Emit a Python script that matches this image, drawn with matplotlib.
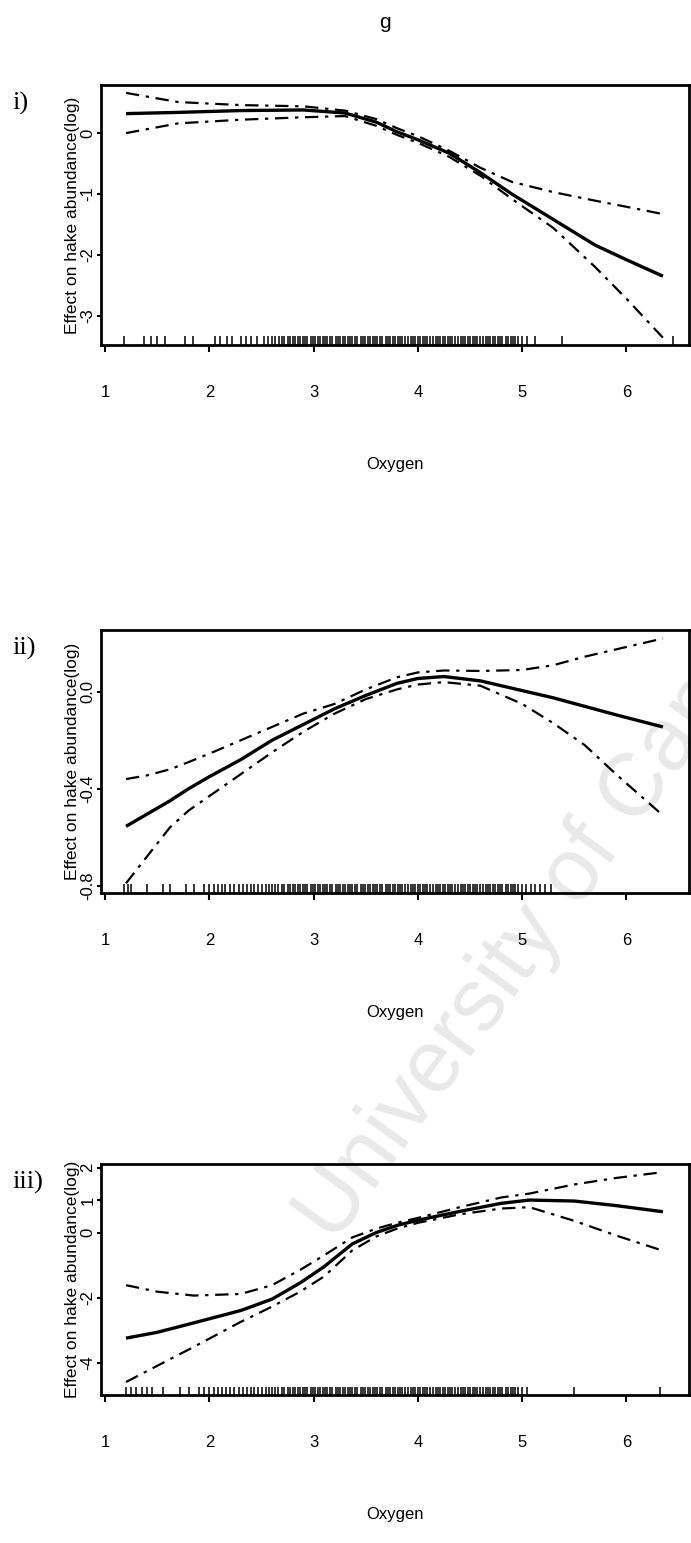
import matplotlib.pyplot as plt

# ---- data (oxygen vs effect) ----
oxy_i = [1.2, 1.7, 2.3, 2.9, 3.3, 3.6, 3.8, 4.0, 4.3, 4.6, 4.9, 5.3, 5.7, 6.0, 6.35]
fit_i = [0.32, 0.34, 0.37, 0.38, 0.33, 0.18, 0.02, -0.11, -0.33, -0.65, -1.00, -1.42, -1.84, -2.08, -2.35]
upper_i = [0.66, 0.51, 0.46, 0.44, 0.37, 0.23, 0.08, -0.05, -0.29, -0.57, -0.80, -0.97, -1.11, -1.21, -1.33]
lower_i = [0.00, 0.16, 0.22, 0.26, 0.28, 0.12, -0.03, -0.16, -0.39, -0.70, -1.08, -1.56, -2.20, -2.72, -3.36]

oxy_ii = [1.2, 1.4, 1.62, 1.8, 2.0, 2.3, 2.6, 2.9, 3.2, 3.5, 3.8, 4.0, 4.25, 4.6, 5.0, 5.3, 5.6, 5.9, 6.35]
fit_ii = [-0.555, -0.505, -0.45, -0.40, -0.35, -0.28, -0.20, -0.135, -0.07, -0.015, 0.035, 0.055, 0.063,
          0.045, 0.005, -0.025, -0.06, -0.095, -0.145]
upper_ii = [-0.36, -0.345, -0.32, -0.29, -0.255, -0.20, -0.145, -0.09, -0.05, 0.01, 0.06, 0.08, 0.088,
            0.086, 0.09, 0.11, 0.145, 0.175, 0.22]
lower_ii = [-0.79, -0.68, -0.56, -0.49, -0.43, -0.34, -0.25, -0.165, -0.09, -0.03, 0.01, 0.03, 0.04,
            0.025, -0.05, -0.13, -0.22, -0.34, -0.51]

oxy_iii = [1.2, 1.5, 1.85, 2.3, 2.6, 2.87, 3.1, 3.37, 3.6, 3.8, 4.0, 4.4, 4.8, 5.07, 5.5, 5.9, 6.35]
fit_iii = [-3.25, -3.07, -2.78, -2.40, -2.05, -1.55, -1.05, -0.35, 0.0, 0.22, 0.38, 0.65, 0.90, 1.00,
           0.97, 0.83, 0.64]
upper_iii = [-1.62, -1.82, -1.94, -1.89, -1.62, -1.15, -0.70, -0.15, 0.12, 0.30, 0.45, 0.78, 1.08, 1.20,
             1.48, 1.68, 1.86]
lower_iii = [-4.60, -4.10, -3.52, -2.75, -2.28, -1.82, -1.35, -0.55, -0.12, 0.12, 0.30, 0.56, 0.74, 0.78,
             0.36, -0.09, -0.56]

# rug: observed oxygen values (dense band shared, sparse ends per panel)
rug_dense = [2.70, 2.72, 2.75, 2.77, 2.80, 2.82, 2.85, 2.87, 2.90, 2.92, 2.94, 2.97, 2.99, 3.01, 3.04,
             3.06, 3.09, 3.11, 3.13, 3.16, 3.18, 3.21, 3.23, 3.25, 3.28, 3.30, 3.33, 3.35, 3.37, 3.40,
             3.42, 3.45, 3.47, 3.49, 3.52, 3.54, 3.57, 3.59, 3.61, 3.64, 3.66, 3.69, 3.71, 3.73, 3.76,
             3.78, 3.81, 3.83, 3.85, 3.88, 3.90, 3.93, 3.95, 3.97, 4.00, 4.02, 4.05, 4.07, 4.09, 4.12,
             4.14, 4.17, 4.19, 4.21, 4.24, 4.26, 4.29, 4.31, 4.33, 4.36, 4.38, 4.41, 4.43, 4.45, 4.48,
             4.50, 4.53, 4.55, 4.57, 4.60, 4.62, 4.65, 4.67, 4.69, 4.72, 4.74, 4.77, 4.79, 4.81, 4.84,
             4.86, 4.89, 4.91, 4.93]
rug_i = [1.18, 1.37, 1.44, 1.50, 1.57, 1.77, 1.84, 2.05, 2.10, 2.17, 2.22, 2.30, 2.35, 2.40, 2.46,
         2.52, 2.56, 2.60, 2.63, 2.67, 4.96, 5.00, 5.05, 5.12, 5.38, 6.45]
rug_ii = [1.18, 1.22, 1.25, 1.40, 1.55, 1.62, 1.78, 1.85, 1.95, 2.00, 2.04, 2.08, 2.12, 2.15, 2.20,
          2.24, 2.28, 2.32, 2.36, 2.40, 2.43, 2.47, 2.50, 2.54, 2.57, 2.60, 2.63, 2.66, 4.96, 5.00,
          5.04, 5.08, 5.12, 5.17, 5.22, 5.28]
rug_iii = [1.20, 1.25, 1.30, 1.35, 1.40, 1.45, 1.55, 1.72, 1.80, 1.90, 1.95, 2.00, 2.04, 2.08, 2.12,
           2.16, 2.20, 2.24, 2.28, 2.32, 2.36, 2.40, 2.43, 2.47, 2.50, 2.54, 2.57, 2.60, 2.63, 2.66,
           4.96, 5.00, 5.05, 5.50, 6.32]

panels = [
    ("i)", oxy_i, fit_i, upper_i, lower_i, rug_i + rug_dense,
     [-3, -2, -1, 0], ["-3", "-2", "-1", "0"], (-3.48, 0.79), 85, 345),
    ("ii)", oxy_ii, fit_ii, upper_ii, lower_ii, rug_ii + rug_dense,
     [-0.8, -0.4, 0.0], ["-0.8", "-0.4", "0.0"], (-0.83, 0.255), 630, 893),
    ("iii)", oxy_iii, fit_iii, upper_iii, lower_iii, rug_iii + rug_dense,
     [-4, -2, 0, 1, 2], ["-4", "-2", "0", "1", "2"], (-5.0, 2.11), 1164, 1395),
]

W, H = 691, 1543
plt.rcParams['font.family'] = ['Liberation Sans', 'DejaVu Sans']
fig = plt.figure(figsize=(W / 100, H / 100), dpi=100)

# thesis watermark (runs off the right edge as in the scan)
fig.text(335 / W, 1 - 1245 / H, "University of Cape Town", rotation=54, rotation_mode='anchor',
         fontsize=64, color='#e9e9e9', ha='left', va='baseline', zorder=-5)

fig.text(385 / W, 1 - 22 / H, "g", fontsize=15, ha='center', va='center')

dashdot = (0, (6, 3, 1.5, 3))
for label, x, fit, up, lo, rug, yt, ytl, ylim, top, bottom in panels:
    ax = fig.add_axes([101 / W, 1 - bottom / H, (689 - 101) / W, (bottom - top) / H])
    ax.set_facecolor('none')
    ax.plot(x, fit, color='k', lw=2.4, solid_capstyle='butt')
    ax.plot(x, up, color='k', lw=1.6, linestyle=dashdot)
    ax.plot(x, lo, color='k', lw=1.6, linestyle=dashdot)
    ax.vlines(rug, 0, 0.035, transform=ax.get_xaxis_transform(), color='k', lw=1.1)

    ax.set_xlim(0.96, 6.6)
    ax.set_ylim(*ylim)
    ax.set_xticks([1, 2, 3, 4, 5, 6])
    ax.set_yticks(yt)
    ax.set_yticklabels(ytl, rotation=90, va='center')
    ax.tick_params(axis='x', direction='out', length=5, width=1.5, pad=24, labelsize=12)
    ax.tick_params(axis='y', direction='out', length=3, width=1.5, pad=1, labelsize=12)
    for s in ax.spines.values():
        s.set_linewidth(2)
    ax.set_ylabel("Effect on hake abundance(log)", fontsize=12.5)
    ax.yaxis.set_label_coords(-0.036, 0.5)
    ax.set_xlabel("Oxygen", fontsize=12)
    ax.xaxis.set_label_coords(0.5, -112 / (bottom - top))
    fig.text(12 / W, 1 - (top + 18) / H, label, family='Liberation Serif', fontsize=19,
             ha='left', va='center')

fig.savefig("out.png", dpi=100)
